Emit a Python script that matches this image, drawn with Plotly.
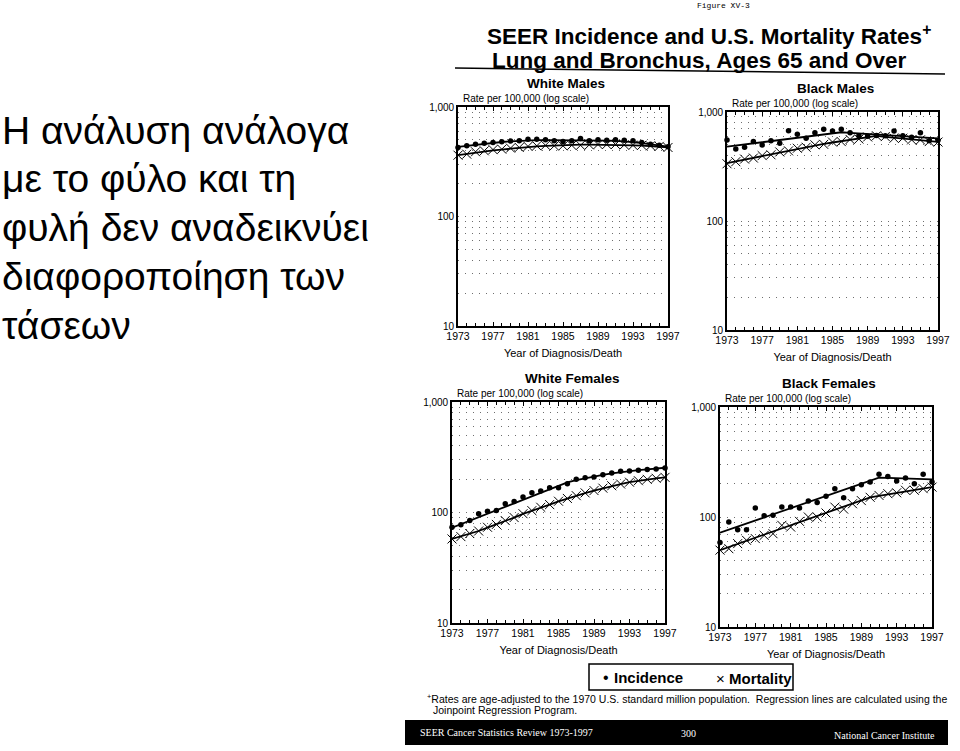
import plotly.graph_objects as go

W, H = 960, 751

years = list(range(1973, 1998))
tick_years = [1973, 1977, 1981, 1985, 1989, 1993, 1997]

# White Males
wm_inc = [427, 442, 457, 467, 474, 481, 488, 491, 508, 508, 501, 491, 484, 491, 515, 491, 501, 497, 501, 497, 491, 474, 457, 448, 433]
wm_inc_fit = [432, 442, 452, 462, 471, 479, 486, 492, 496, 498, 499, 499, 499, 499, 498, 497, 496, 494, 491, 486, 478, 467, 456, 445, 434]
wm_mort = [363, 371, 390, 398, 408, 412, 421, 427, 437, 442, 447, 442, 442, 447, 447, 451, 455, 455, 455, 451, 447, 447, 442, 437, 427]
wm_mort_fit = [363, 373, 383, 392, 401, 409, 417, 424, 431, 437, 442, 446, 449, 451, 453, 454, 454, 453, 452, 450, 447, 444, 440, 435, 429]

# Black Males
bm_inc = [553, 458, 474, 535, 498, 545, 517, 674, 624, 573, 646, 694, 670, 694, 645, 606, 600, 610, 606, 670, 606, 587, 645, 545, 550]
bm_inc_fit = [481, 492, 504, 516, 528, 541, 554, 567, 580, 594, 608, 622, 637, 652, 644, 637, 630, 622, 615, 608, 601, 594, 587, 580, 573]
bm_mort = [335, 350, 370, 378, 398, 405, 430, 440, 465, 475, 500, 505, 530, 535, 560, 565, 590, 605, 595, 575, 575, 555, 555, 535, 530]
bm_mort_fit = [339, 352, 366, 380, 395, 410, 426, 443, 460, 478, 497, 511, 525, 540, 555, 571, 587, 603, 592, 581, 571, 561, 551, 541, 531]

# White Females
wf_inc = [73.6, 77.3, 84.6, 97.2, 102.8, 104.3, 120, 125.9, 137.8, 150.9, 156.3, 167.5, 167.5, 182.3, 199.6, 206.7, 209.6, 220, 227.8, 236, 237.8, 241, 244.4, 247.8, 253]
wf_inc_fit = [73, 78.5, 84.4, 90.7, 97.5, 104.8, 112.7, 121.1, 130.2, 140, 150.5, 161.8, 173.9, 187, 196, 204, 212, 219, 226, 232, 237, 242, 246, 250, 254]
wf_mort = [57.6, 60.5, 64.5, 68, 73.5, 78, 84.5, 90, 97.5, 104, 111.5, 118, 126.5, 134, 142, 150.5, 158, 166, 174.5, 181, 188, 194, 199.5, 204, 208]
wf_mort_fit = [57.6, 61, 64, 68, 73, 78, 84, 90, 97, 104, 111, 118, 126, 134, 142, 150, 158, 166, 174, 181, 188, 194, 199, 204, 208]

# Black Females
bf_inc = [58.5, 90.1, 76.7, 76.7, 120.8, 102.8, 103.5, 123.3, 123.3, 120.8, 139.7, 135.8, 154, 181, 150, 181, 196.8, 208, 244.5, 234, 212, 226.5, 201, 244.5, 208]
bf_inc_fit = [72, 76.8, 81.8, 87.2, 93, 99.1, 105.7, 112.7, 120.1, 128, 136.5, 145.5, 155.1, 165.4, 176.3, 188, 200.4, 213.7, 228, 226.6, 225.2, 223.8, 222.4, 221, 219.7]
bf_mort = [50, 51.5, 57.3, 61.4, 63.6, 68.1, 70.5, 84, 81, 91.3, 100, 100, 108.7, 123, 118, 132, 141, 151, 157, 163, 166, 175, 175, 181, 187]
bf_mort_fit = [50, 53.4, 56.9, 60.8, 64.8, 69.2, 73.8, 78.8, 84.1, 89.7, 95.8, 102.2, 109.1, 116.4, 124.2, 132.6, 141.5, 151, 155.7, 160.5, 165.5, 170.6, 175.9, 181.4, 187]

panels = [
    ("White Males", wm_inc, wm_inc_fit, wm_mort, wm_mort_fit),
    ("Black Males", bm_inc, bm_inc_fit, bm_mort, bm_mort_fit),
    ("White Females", wf_inc, wf_inc_fit, wf_mort, wf_mort_fit),
    ("Black Females", bf_inc, bf_inc_fit, bf_mort, bf_mort_fit),
]

side_lines = ["Η ανάλυση ανάλογα", "με το φύλο και τη", "φυλή δεν αναδεικνύει", "διαφοροποίηση των", "τάσεων"]

boxes = [(458, 668, 107, 326), (727, 938, 112, 330), (452, 665, 402, 623), (720, 932, 407, 627)]
title_pos = [(566, 83), (835, 88), (572, 378), (829, 383)]

FONT = "Liberation Sans, Arial, sans-serif"

fig = go.Figure()

major_y = [10, 100, 1000]
major_y_text = ["10", "100", "1,000"]
minor_y = [20, 30, 40, 50, 60, 70, 80, 90, 200, 300, 400, 500, 600, 700, 800, 900]
DOT = "1px,6px"
GRID = "#6e6e6e"

annotations = []
shapes = []


def px(x):
    return x / W


def py(y):
    return 1 - y / H


for i, (name, inc, inc_fit, mort, mort_fit) in enumerate(panels):
    n = "" if i == 0 else str(i + 1)
    xa, ya = "x" + n, "y" + n
    fig.add_trace(go.Scatter(x=years, y=inc_fit, mode="lines", line=dict(color="black", width=1.8),
                             xaxis=xa, yaxis=ya, showlegend=False, hoverinfo="skip"))
    fig.add_trace(go.Scatter(x=years, y=mort_fit, mode="lines", line=dict(color="black", width=1.8),
                             xaxis=xa, yaxis=ya, showlegend=False, hoverinfo="skip"))
    fig.add_trace(go.Scatter(x=years, y=inc, mode="markers", name="Incidence",
                             marker=dict(symbol="circle", size=5.5, color="black"),
                             xaxis=xa, yaxis=ya, showlegend=False, cliponaxis=False))
    fig.add_trace(go.Scatter(x=years, y=mort, mode="markers", name="Mortality",
                             marker=dict(symbol="x-thin-open", size=9, color="black",
                                         line=dict(color="black", width=1)),
                             xaxis=xa, yaxis=ya, showlegend=False, cliponaxis=False))
    l, r, t, b = boxes[i]
    fig.update_layout(**{
        "xaxis" + n: dict(domain=[px(l), px(r)], anchor=ya, range=[1973, 1997],
                          tickvals=tick_years, ticks="inside", ticklen=4,
                          tickcolor="black", showline=True, linecolor="black", linewidth=1.6,
                          mirror="ticks", showgrid=False, zeroline=False,
                          minor=dict(tickvals=years, ticks="inside", ticklen=3, tickcolor="black"),
                          tickfont=dict(family=FONT, size=10.5, color="black"),
                          title=dict(text="Year of Diagnosis/Death", standoff=8,
                                     font=dict(family=FONT, size=11, color="black"))),
        "yaxis" + n: dict(domain=[py(b), py(t)], anchor=xa, type="log", range=[1, 3],
                          tickvals=major_y, ticktext=major_y_text, ticks="", showgrid=True,
                          gridcolor=GRID, griddash=DOT, gridwidth=1,
                          minor=dict(tickvals=minor_y, ticks="", showgrid=True,
                                     gridcolor=GRID, griddash=DOT, gridwidth=1),
                          showline=True, linecolor="black", linewidth=1.6, mirror=True,
                          zeroline=False,
                          tickfont=dict(family=FONT, size=10, color="black")),
    })
    tx, ty = title_pos[i]
    annotations.append(dict(text="<b>" + name + "</b>", x=px(tx), y=py(ty), xref="paper", yref="paper",
                            showarrow=False, font=dict(family=FONT, size=13.5, color="black"),
                            xanchor="center", yanchor="middle"))
    annotations.append(dict(text="Rate per 100,000 (log scale)", x=px(l + 3), y=py(t - 1),
                            xref="paper", yref="paper", showarrow=False,
                            font=dict(family=FONT, size=10, color="black"),
                            xanchor="left", yanchor="bottom"))

for k, line in enumerate(side_lines):
    annotations.append(dict(text=line, x=0, y=py(130 + 48.8 * k), xref="paper", yref="paper",
                            showarrow=False, xanchor="left", yanchor="middle",
                            font=dict(family=FONT, size=39, color="black")))

annotations.append(dict(text="Figure XV-3", x=px(723), y=py(6), xref="paper", yref="paper", showarrow=False,
                        font=dict(family="Liberation Mono, monospace", size=8, color="black"),
                        xanchor="center", yanchor="middle"))
annotations.append(dict(text="<b>SEER Incidence and U.S. Mortality Rates<sup>+</sup></b>", x=px(709), y=py(35),
                        xref="paper", yref="paper", showarrow=False,
                        font=dict(family=FONT, size=22.5, color="black"), xanchor="center", yanchor="middle"))
annotations.append(dict(text="<b>Lung and Bronchus, Ages 65 and Over</b>", x=px(699), y=py(61),
                        xref="paper", yref="paper", showarrow=False,
                        font=dict(family=FONT, size=22.5, color="black"), xanchor="center", yanchor="middle"))

annotations.append(dict(text="•", x=px(606), y=py(677), xref="paper", yref="paper", showarrow=False,
                        font=dict(family=FONT, size=16, color="black"), xanchor="center", yanchor="middle"))
annotations.append(dict(text="<b>Incidence</b>", x=px(612), y=py(677), xref="paper", yref="paper", showarrow=False,
                        font=dict(family=FONT, size=15, color="black"), xanchor="left", yanchor="middle"))
annotations.append(dict(text="×", x=px(720), y=py(678), xref="paper", yref="paper", showarrow=False,
                        font=dict(family=FONT, size=15, color="black"), xanchor="center", yanchor="middle"))
annotations.append(dict(text="<b>Mortality</b>", x=px(727), y=py(678), xref="paper", yref="paper", showarrow=False,
                        font=dict(family=FONT, size=15, color="black"), xanchor="left", yanchor="middle"))
shapes.append(dict(type="rect", xref="paper", yref="paper", x0=px(589), y0=py(664), x1=px(793), y1=py(690),
                   line=dict(color="black", width=1.5), fillcolor="rgba(0,0,0,0)"))

annotations.append(dict(text="<sup>+</sup>Rates are age-adjusted to the 1970 U.S. standard million population.  Regression lines are calculated using the",
                        x=px(425), y=py(698), xref="paper", yref="paper", showarrow=False,
                        font=dict(family=FONT, size=10.5, color="black"), xanchor="left", yanchor="middle"))
annotations.append(dict(text="Joinpoint Regression Program.",
                        x=px(431), y=py(710), xref="paper", yref="paper", showarrow=False,
                        font=dict(family=FONT, size=10.5, color="black"), xanchor="left", yanchor="middle"))
foot = dict(family="Liberation Serif, serif", size=10, color="white")
annotations.append(dict(text="SEER Cancer Statistics Review 1973-1997", x=px(418), y=py(732), xref="paper", yref="paper",
                        showarrow=False, font=foot, xanchor="left", yanchor="middle"))
annotations.append(dict(text="300", x=px(688), y=py(733), xref="paper", yref="paper",
                        showarrow=False, font=foot, xanchor="center", yanchor="middle"))
annotations.append(dict(text="National Cancer Institute", x=px(937), y=py(735), xref="paper", yref="paper",
                        showarrow=False, font=foot, xanchor="right", yanchor="middle"))

shapes.append(dict(type="line", xref="paper", yref="paper", x0=px(455), y0=py(68), x1=px(945), y1=py(74),
                   line=dict(color="black", width=1.5)))
shapes.append(dict(type="rect", xref="paper", yref="paper", x0=px(405), y0=py(720), x1=px(948), y1=py(745),
                   fillcolor="black", line=dict(width=0)))

fig.update_layout(
    width=W, height=H, autosize=False,
    margin=dict(l=0, r=0, t=0, b=0, autoexpand=False),
    paper_bgcolor="white", plot_bgcolor="white",
    annotations=annotations, shapes=shapes,
    showlegend=False,
)

fig.write_html("out.html")
